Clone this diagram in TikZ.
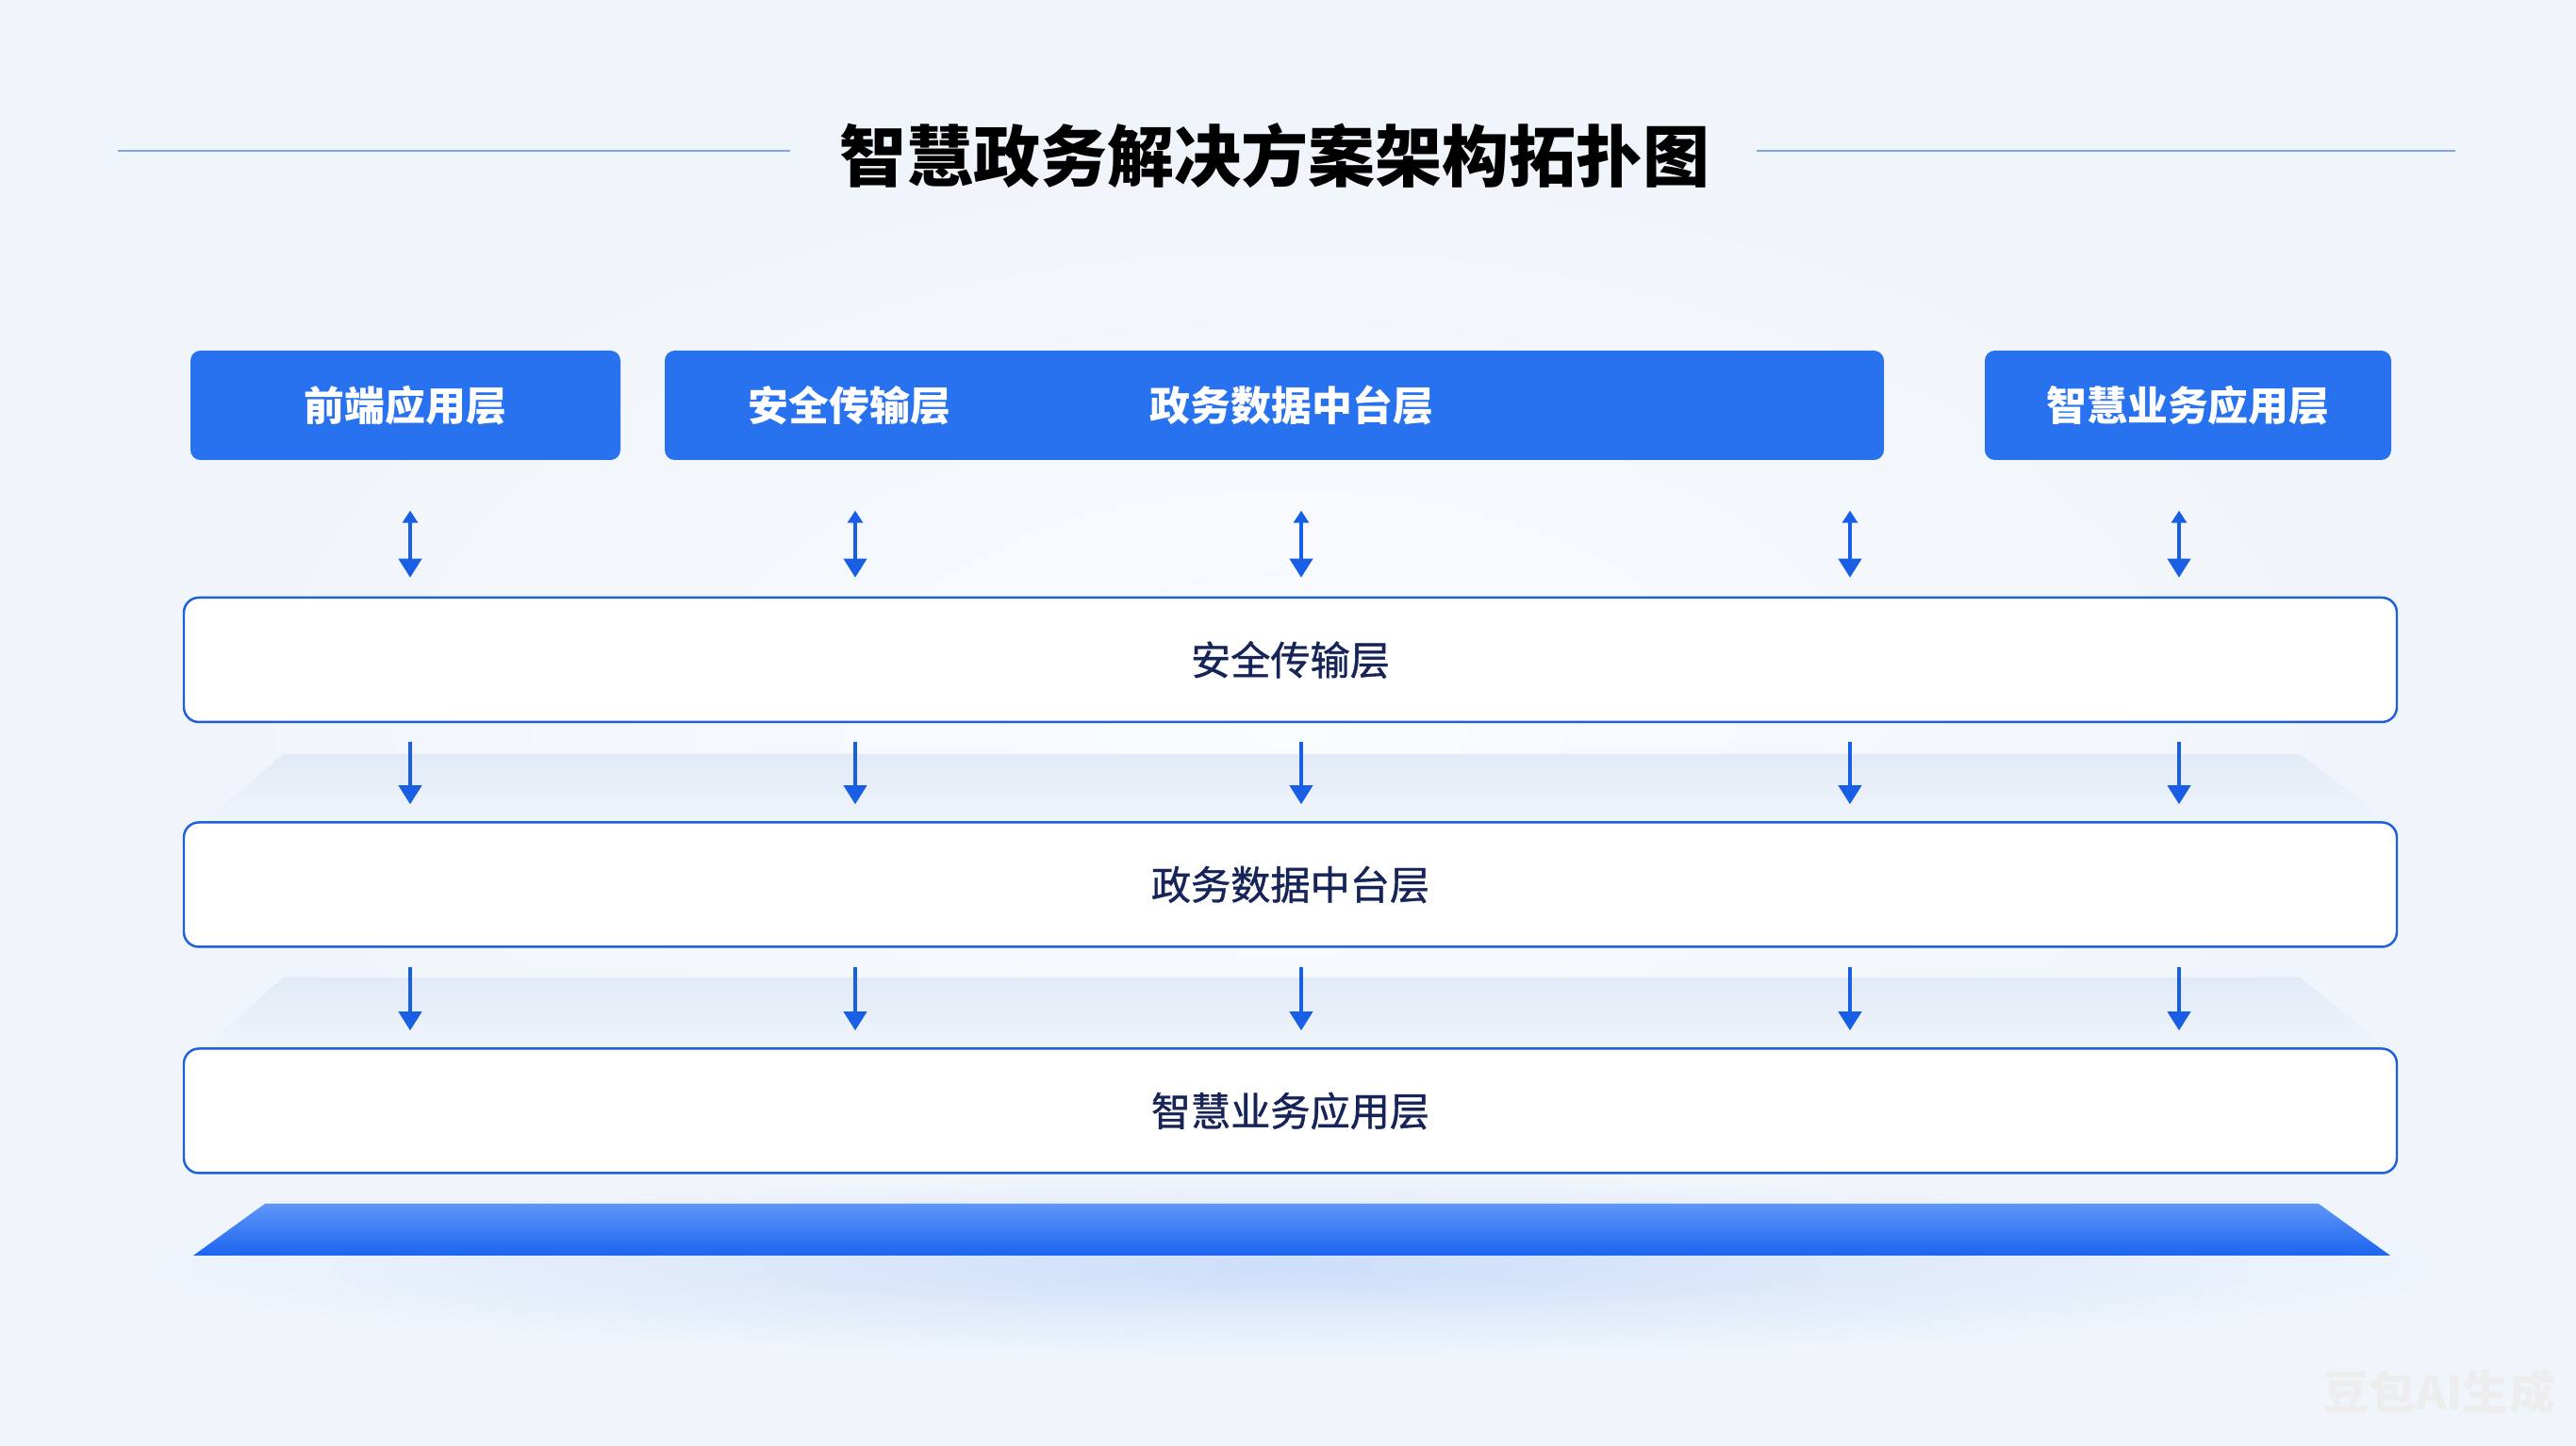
\documentclass[tikz,border=0pt]{standalone}
\usepackage{fontspec}
\newfontfamily\cjk{Noto Sans CJK SC}
\newfontfamily\cjkmid[UprightFeatures={FakeBold=0.9}]{Noto Sans CJK SC}
\usepackage{xcolor}
\definecolor{govBlue}{RGB}{40, 114, 240}
\definecolor{lineBlue}{RGB}{30, 95, 220}
\definecolor{arrBlue}{RGB}{25, 95, 230}
\definecolor{inkNavy}{RGB}{22, 36, 88}
\definecolor{paper}{RGB}{240, 245, 251}
\definecolor{mist}{RGB}{226, 234, 247}
\definecolor{glow}{RGB}{205, 222, 250}
\definecolor{rule}{RGB}{125, 165, 232}
\definecolor{platTop}{RGB}{95, 150, 247}
\definecolor{platBot}{RGB}{28, 100, 240}
\usetikzlibrary{arrows.meta, positioning}

\begin{document}
\begin{tikzpicture}[
    head/.style={
        rectangle, fill=govBlue, rounded corners=3pt,
        minimum height=1.16cm, inner sep=0pt
    },
    headtxt/.style={text=white, font=\cjk\bfseries\fontsize{12.2pt}{14pt}\selectfont},
    layer/.style={
        rectangle, draw=lineBlue, fill=white, rounded corners=4.5pt,
        line width=0.7pt, minimum width=23.47cm, minimum height=1.32cm,
        text=inkNavy, font=\cjkmid\fontsize{12pt}{14pt}\selectfont
    },
    arr/.style={-{Triangle[length=2mm, width=2.4mm]}, line width=1.1pt, arrBlue,
        shorten <=0.2cm, shorten >=0.18cm},
    biarr/.style={{Triangle[length=1.3mm, width=1.6mm]}-{Triangle[length=2mm, width=2.4mm]},
        line width=1.1pt, arrBlue, shorten <=0.53cm, shorten >=0.2cm},
    haze/.style={top color=mist, bottom color=paper}
]

\useasboundingbox (0,0) rectangle (27.32,15.34);
\fill[paper] (0,0) rectangle (27.32,15.34);
\shade[inner color=white, outer color=paper, opacity=0.7] (1,1) rectangle (26.32,14.34);

% title
\node[font=\cjk\bfseries\fontsize{20.2pt}{24pt}\selectfont] (title) at (13.52,13.69) {智慧政务解决方案架构拓扑图};
\draw[rule, line width=0.6pt] (1.25,13.74) -- (8.38,13.74);
\draw[rule, line width=0.6pt] (18.63,13.74) -- (26.04,13.74);

% haze between layers and glow under the plate
\shade[haze] (3.00,7.34) -- (24.39,7.34) -- (25.35,6.61) -- (2.16,6.61) -- cycle;
\shade[haze] (3.00,4.97) -- (24.39,4.97) -- (25.35,4.21) -- (2.16,4.21) -- cycle;
\shade[inner color=glow, outer color=paper] (13.7,1.9) ellipse (12.6cm and 0.95cm);

% top blue bar
\node[head, headtxt, minimum width=4.56cm] (h1) at (4.30,11.04) {前端应用层};
\node[head, minimum width=12.93cm] (h2) at (13.515,11.04) {};
\node[headtxt] (h2a) at (9.01,11.04) {安全传输层};
\node[headtxt] (h2b) at (13.70,11.04) {政务数据中台层};
\node[head, headtxt, minimum width=4.31cm] (h4) at (23.205,11.04) {智慧业务应用层};

% layers
\node[layer] (l1) at (13.685,8.34)  {安全传输层};
\node[layer] (l2) at (13.685,5.955) {政务数据中台层};
\node[layer] (l3) at (13.685,3.555) {智慧业务应用层};

% base plate
\shade[top color=platTop, bottom color=platBot] (2.81,2.57) -- (24.59,2.57) -- (25.35,2.02) -- (2.05,2.02) -- cycle;

% columns
\coordinate (c1) at (4.35,0);
\coordinate (c2) at (9.07,0);
\coordinate (c3) at (13.80,0);
\coordinate (c4) at (19.62,0);
\coordinate (c5) at (23.11,0);

\draw[biarr] (h1.south -| c1) -- (l1.north -| c1);
\draw[biarr] (h2.south -| c2) -- (l1.north -| c2);
\draw[biarr] (h2.south -| c3) -- (l1.north -| c3);
\draw[biarr] (h2.south -| c4) -- (l1.north -| c4);
\draw[biarr] (h4.south -| c5) -- (l1.north -| c5);

\draw[arr] (l1.south -| c1) -- (l2.north -| c1);
\draw[arr] (l1.south -| c2) -- (l2.north -| c2);
\draw[arr] (l1.south -| c3) -- (l2.north -| c3);
\draw[arr] (l1.south -| c4) -- (l2.north -| c4);
\draw[arr] (l1.south -| c5) -- (l2.north -| c5);

\draw[arr] (l2.south -| c1) -- (l3.north -| c1);
\draw[arr] (l2.south -| c2) -- (l3.north -| c2);
\draw[arr] (l2.south -| c3) -- (l3.north -| c3);
\draw[arr] (l2.south -| c4) -- (l3.north -| c4);
\draw[arr] (l2.south -| c5) -- (l3.north -| c5);

\node[font=\cjk\bfseries\fontsize{14pt}{16pt}\selectfont, text=white!86!gray] (mark) at (25.87,0.57) {豆包AI生成};

\end{tikzpicture}
\end{document}
